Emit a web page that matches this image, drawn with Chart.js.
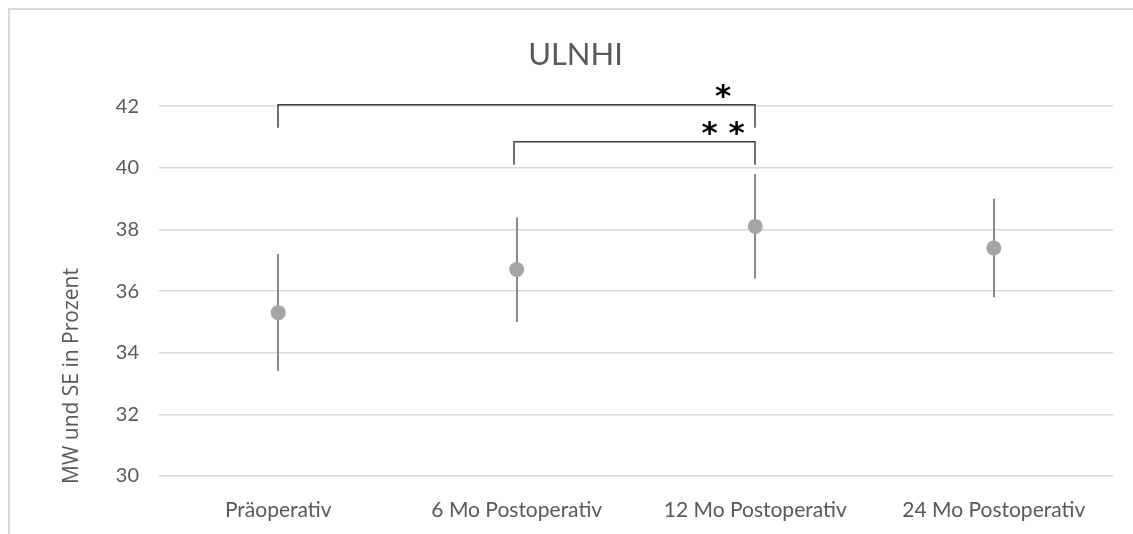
<!DOCTYPE html>
<html>
<head>
<meta charset="utf-8">
<script src="https://cdn.jsdelivr.net/npm/chart.js@4.4.0/dist/chart.umd.min.js"></script>
<style>
  html, body { margin: 0; padding: 0; background: #fff; }
  #wrap { position: relative; width: 1133px; height: 534px; }
  #frame { position: absolute; left: 8px; top: 8px; right: -10px; bottom: -10px;
           border-left: 2px solid #d9d9d9; border-top: 2px solid #d9d9d9; pointer-events: none; }
</style>
</head>
<body>
<div id="wrap">
  <canvas id="myChart" width="1133" height="534"></canvas>
  <div id="frame"></div>
</div>
<script>
const labels = ['Präoperativ', '6 Mo Postoperativ', '12 Mo Postoperativ', '24 Mo Postoperativ'];
const means = [35.3, 36.7, 38.1, 37.4];
const se = [1.9, 1.7, 1.7, 1.6];
const yTicks = [30, 32, 34, 36, 38, 40, 42];
// significance brackets: from category, to category, stars
const sigFrom = [0, 1];
const sigTo = [2, 2];
const sigStars = ['*', '* *'];
const sigLevel = [42.05, 40.85];

const ctx = document.getElementById('myChart');
const grey = '#595959';

const errorBars = {
  id: 'errorBars',
  beforeDatasetsDraw(chart) {
    const c = chart.ctx, x = chart.scales.x, y = chart.scales.y;
    c.save();
    c.strokeStyle = '#8a8a8a';
    c.lineWidth = 2;
    for (let i = 0; i < means.length; i++) {
      const px = Math.round(x.getPixelForValue(i));
      c.beginPath();
      c.moveTo(px, y.getPixelForValue(means[i] + se[i]));
      c.lineTo(px, y.getPixelForValue(means[i] - se[i]));
      c.stroke();
    }
    c.restore();
  },
  afterDraw(chart) {
    const c = chart.ctx, x = chart.scales.x, y = chart.scales.y;
    c.save();
    // brackets
    c.strokeStyle = '#404040';
    c.lineWidth = 1.5;
    for (let i = 0; i < sigFrom.length; i++) {
      const x1 = Math.round(x.getPixelForValue(sigFrom[i])) - (i == 1 ? 3 : 0);
      const x2 = Math.round(x.getPixelForValue(sigTo[i]));
      const top = y.getPixelForValue(sigLevel[i]);
      const bot = y.getPixelForValue(sigLevel[i] - 0.75);
      c.beginPath();
      c.moveTo(x1, bot);
      c.lineTo(x1, top);
      c.lineTo(x2, top);
      c.lineTo(x2, bot);
      c.stroke();
      c.fillStyle = '#000';
      c.font = 'bold 31px "DejaVu Sans"';
      c.textAlign = 'center';
      c.textBaseline = 'middle';
      c.fillText(sigStars[i], x2 - 32, top - 7);
    }
    // y axis title
    c.translate(72, 376);
    c.rotate(-Math.PI / 2);
    c.fillStyle = grey;
    c.font = '21px "Open Sans"';
    c.textAlign = 'center';
    c.textBaseline = 'middle';
    c.fillText('MW und SE in Prozent', 0, 0);
    c.restore();
  }
};

new Chart(ctx, {
  type: 'line',
  data: {
    labels: labels,
    datasets: [{
      label: 'ULNHI',
      data: means,
      showLine: false,
      pointRadius: 7.5,
      pointHoverRadius: 7.5,
      pointBackgroundColor: '#a5a5a5',
      pointBorderWidth: 0,
      borderColor: '#a5a5a5'
    }]
  },
  options: {
    responsive: false,
    animation: false,
    layout: { padding: { left: 38, top: 36, right: 20, bottom: 0 } },
    plugins: {
      legend: { display: false },
      tooltip: { enabled: false },
      title: {
        display: true,
        text: 'ULNHI',
        color: grey,
        font: { family: 'Lato', size: 31, weight: 'normal' },
        padding: { top: 0, bottom: 33 }
      }
    },
    scales: {
      x: {
        offset: true,
        grid: { display: false },
        border: { display: false },
        ticks: { color: grey, font: { family: 'Lato', size: 21 }, padding: 14, maxRotation: 0 },
        afterFit(s) { s.height = 58; }
      },
      y: {
        min: 30,
        max: 42,
        afterBuildTicks(s) { s.ticks = yTicks.map(v => ({ value: v })); },
        grid: { color: '#d9d9d9', lineWidth: 1.5, drawTicks: false },
        border: { display: false },
        ticks: { color: grey, font: { family: 'Lato', size: 20 }, padding: 20 },
        afterFit(s) { s.width = 121; }
      }
    }
  },
  plugins: [errorBars]
});
</script>
</body>
</html>
